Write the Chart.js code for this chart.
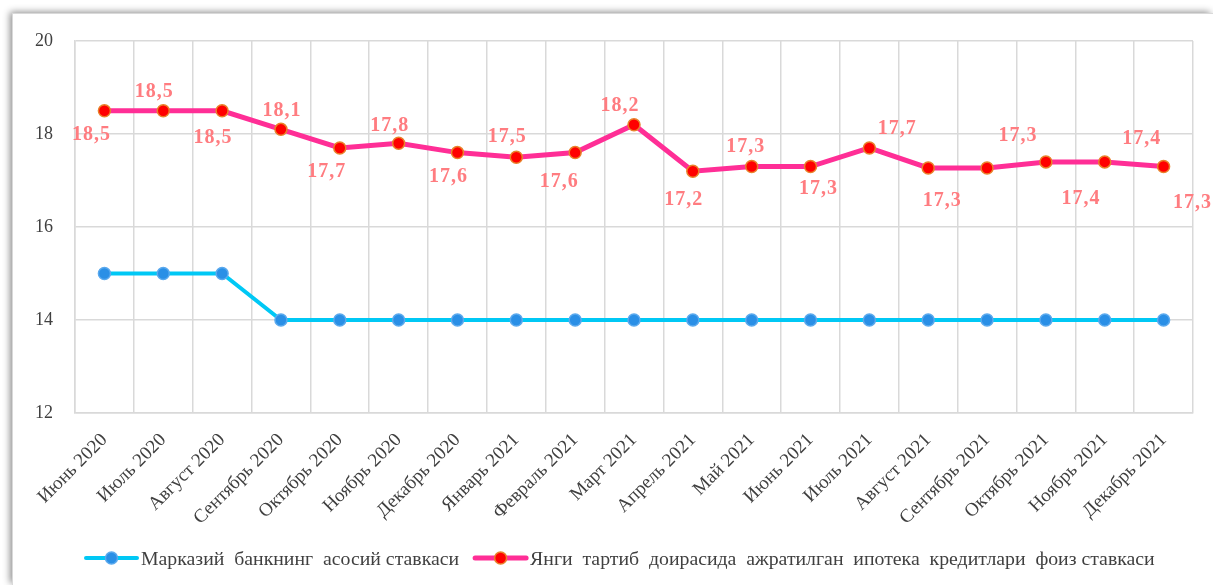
<!DOCTYPE html>
<html>
<head>
<meta charset="utf-8">
<script src="https://cdn.jsdelivr.net/npm/chart.js@4/dist/chart.umd.min.js"></script>
<style>
  html, body { margin: 0; padding: 0; background: #ffffff; width: 1213px; height: 585px; overflow: hidden; }
  #frame {
    position: absolute; left: 13px; top: 14px; width: 1200px; height: 571px;
    background: #ffffff;
    box-shadow: -3px -2px 7px rgba(0,0,0,0.45);
    outline: 1px solid #d9d9d9;
  }
  canvas { display: block; }
</style>
</head>
<body>
<div id="frame"><canvas id="c" width="1200" height="571"></canvas></div>
<script>
const categories = [
  "Июнь 2020", "Июль 2020", "Август 2020", "Сентябрь 2020", "Октябрь 2020",
  "Ноябрь 2020", "Декабрь 2020", "Январь 2021", "Февраль 2021", "Март 2021",
  "Апрель 2021", "Май 2021", "Июнь 2021", "Июль 2021", "Август 2021",
  "Сентябрь 2021", "Октябрь 2021", "Ноябрь 2021", "Декабрь 2021"
];
const baseRate = [15, 15, 15, 14, 14, 14, 14, 14, 14, 14, 14, 14, 14, 14, 14, 14, 14, 14, 14];
const mortgageRate = [18.5, 18.5, 18.5, 18.1, 17.7, 17.8, 17.6, 17.5, 17.6, 18.2, 17.2, 17.3, 17.3, 17.7, 17.27, 17.27, 17.4, 17.4, 17.3];
const seriesNames = [
  "Марказий  банкнинг  асосий ставкаси",
  "Янги  тартиб  доирасида  ажратилган  ипотека  кредитлари  фоиз ставкаси"
];
const yTicks = [12, 14, 16, 18, 20];

// data label placement (offsets from each point, in px)
const labelDx = [-13, -9, -9, 1, -13, -9, -9, -9, -16, -14, -9, -6, 8, 28, 14, 31, 35, 37, 29];
const labelDy = [24, -19, 27, -19, 24, -17, 24, -20, 29, -19, 29, -20, 22, -19, 33, -32, 37, -23, 36];

const SERIF = '"Liberation Serif", "Times New Roman", serif';

const dataLabelPlugin = {
  id: 'dataLabels',
  afterDatasetsDraw(chart) {
    const meta = chart.getDatasetMeta(1);
    const ctx = chart.ctx;
    ctx.save();
    ctx.font = 'bold 20px ' + SERIF;
    ctx.letterSpacing = '1px';
    ctx.fillStyle = '#FF7C80';
    ctx.textAlign = 'center';
    ctx.textBaseline = 'middle';
    meta.data.forEach((pt, i) => {
      const v = mortgageRate[i].toFixed(1).replace('.', ',');
      ctx.fillText(v, pt.x + labelDx[i], pt.y + labelDy[i]);
    });
    ctx.restore();
  }
};

const legendPlugin = {
  id: 'customLegend',
  afterDraw(chart) {
    const ctx = chart.ctx;
    const ds = chart.data.datasets;
    ctx.save();
    ctx.font = '19.8px ' + SERIF;
    const lineLen = 51, gapText = 4, gapItem = 16;
    let x = 73;
    const y = 544;
    ds.forEach((d, i) => {
      ctx.strokeStyle = d.borderColor;
      ctx.lineWidth = d.borderWidth;
      ctx.lineCap = 'round';
      ctx.beginPath();
      ctx.moveTo(x, y); ctx.lineTo(x + lineLen, y);
      ctx.stroke();
      ctx.beginPath();
      ctx.arc(x + lineLen / 2, y, 6, 0, Math.PI * 2);
      ctx.fillStyle = d.pointBackgroundColor;
      ctx.fill();
      ctx.lineWidth = d.pointBorderWidth;
      ctx.strokeStyle = d.pointBorderColor;
      ctx.stroke();
      ctx.fillStyle = '#404040';
      ctx.textAlign = 'left';
      ctx.textBaseline = 'middle';
      ctx.fillText(d.label, x + lineLen + gapText, y + 2);
      x += lineLen + gapText + ctx.measureText(d.label).width + gapItem;
    });
    ctx.restore();
  }
};

new Chart(document.getElementById('c'), {
  type: 'line',
  data: {
    labels: categories,
    datasets: [
      {
        label: seriesNames[0],
        data: baseRate,
        borderColor: '#00C8F5',
        borderWidth: 4,
        pointRadius: 6,
        pointHoverRadius: 6,
        pointBackgroundColor: '#2A8FE6',
        pointBorderColor: '#5AA9EE',
        pointBorderWidth: 1.5,
        tension: 0
      },
      {
        label: seriesNames[1],
        data: mortgageRate,
        borderColor: '#FF2E96',
        borderWidth: 5,
        pointRadius: 6,
        pointHoverRadius: 6,
        pointBackgroundColor: '#FF0000',
        pointBorderColor: '#E9822B',
        pointBorderWidth: 1.5,
        tension: 0
      }
    ]
  },
  options: {
    responsive: false,
    animation: false,
    events: [],
    layout: { autoPadding: false, padding: { left: 0, top: 27, right: 20, bottom: 0 } },
    plugins: { legend: { display: false }, tooltip: { enabled: false } },
    scales: {
      x: {
        offset: true,
        grid: { offset: true, color: '#d9d9d9', lineWidth: 1.5, drawTicks: false },
        border: { display: true, color: '#d9d9d9', width: 1.5 },
        ticks: {
          minRotation: 45, maxRotation: 45, autoSkip: false,
          font: { family: SERIF, size: 19 }, color: '#404040', padding: 16
        },
        afterFit(s) { s.height = 172; s.paddingLeft = 0; s.paddingRight = 0; s.paddingTop = 0; s.paddingBottom = 0; }
      },
      y: {
        min: 12, max: 20,
        afterBuildTicks(s) { s.ticks = yTicks.map(v => ({ value: v })); },
        grid: { color: '#d9d9d9', lineWidth: 1.5, drawTicks: false },
        border: { display: true, color: '#d9d9d9', width: 1.5 },
        ticks: { font: { family: SERIF, size: 18 }, color: '#404040', padding: 22 },
        afterFit(s) { s.width = 62; s.paddingTop = 0; s.paddingBottom = 0; s.paddingLeft = 0; s.paddingRight = 0; }
      }
    }
  },
  plugins: [dataLabelPlugin, legendPlugin]
});
</script>
</body>
</html>
